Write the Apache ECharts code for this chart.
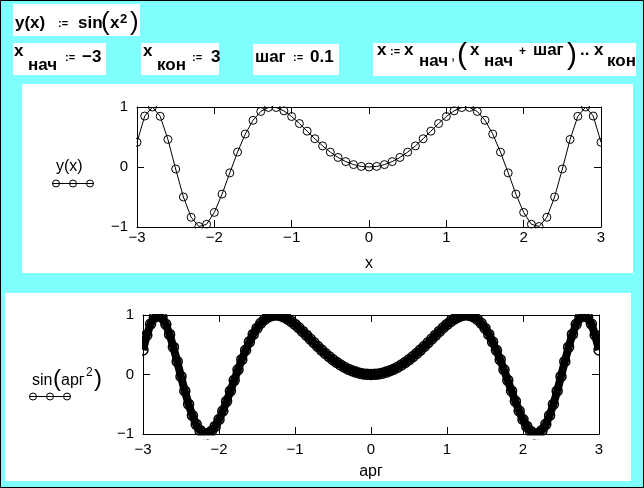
<!DOCTYPE html>
<html><head><meta charset="utf-8">
<script src="https://cdn.jsdelivr.net/npm/echarts@6/dist/echarts.min.js"></script>
<style>html,body{margin:0;padding:0;background:#80ffff}#c{width:644px;height:488px}</style>
</head><body><div id="c"></div>
<script>
// ---- data: y(x) = sin(x^2), x from -3 to 3 step 0.1 (values read/tabulated)
const xNodes = [-3,-2.9,-2.8,-2.7,-2.6,-2.5,-2.4,-2.3,-2.2,-2.1,-2,-1.9,-1.8,-1.7,-1.6,-1.5,-1.4,-1.3,-1.2,-1.1,-1,-0.9,-0.8,-0.7,-0.6,-0.5,-0.4,-0.3,-0.2,-0.1,0,0.1,0.2,0.3,0.4,0.5,0.6,0.7,0.8,0.9,1,1.1,1.2,1.3,1.4,1.5,1.6,1.7,1.8,1.9,2,2.1,2.2,2.3,2.4,2.5,2.6,2.7,2.8,2.9,3];
const yNodes = [0.4121,0.8494,0.9999,0.8451,0.4590,-0.0332,-0.4996,-0.8378,-0.9919,-0.9546,-0.7568,-0.4515,-0.0982,0.2489,0.5494,0.7781,0.9252,0.9929,0.9915,0.9356,0.8415,0.7243,0.5972,0.4706,0.3523,0.2474,0.1593,0.0899,0.0400,0.0100,0,0.0100,0.0400,0.0899,0.1593,0.2474,0.3523,0.4706,0.5972,0.7243,0.8415,0.9356,0.9915,0.9929,0.9252,0.7781,0.5494,0.2489,-0.0982,-0.4515,-0.7568,-0.9546,-0.9919,-0.8378,-0.4996,-0.0332,0.4590,0.8451,0.9999,0.8494,0.4121];
// ---- data: sin(арг^2), dense quick-plot
const argNodes = [-3,-2.95,-2.9,-2.85,-2.8,-2.75,-2.7,-2.65,-2.6,-2.55,-2.5,-2.45,-2.4,-2.35,-2.3,-2.25,-2.2,-2.15,-2.1,-2.05,-2,-1.95,-1.9,-1.85,-1.8,-1.75,-1.7,-1.65,-1.6,-1.55,-1.5,-1.45,-1.4,-1.35,-1.3,-1.25,-1.2,-1.15,-1.1,-1.05,-1,-0.95,-0.9,-0.85,-0.8,-0.75,-0.7,-0.65,-0.6,-0.55,-0.5,-0.45,-0.4,-0.35,-0.3,-0.25,-0.2,-0.15,-0.1,-0.05,0,0.05,0.1,0.15,0.2,0.25,0.3,0.35,0.4,0.45,0.5,0.55,0.6,0.65,0.7,0.75,0.8,0.85,0.9,0.95,1,1.05,1.1,1.15,1.2,1.25,1.3,1.35,1.4,1.45,1.5,1.55,1.6,1.65,1.7,1.75,1.8,1.85,1.9,1.95,2,2.05,2.1,2.15,2.2,2.25,2.3,2.35,2.4,2.45,2.5,2.55,2.6,2.65,2.7,2.75,2.8,2.85,2.9,2.95,3];
const sinArgNodes = [0.4121,0.6611,0.8494,0.9642,0.9999,0.9578,0.8451,0.6738,0.4590,0.2176,-0.0332,-0.2770,-0.4996,-0.6894,-0.8378,-0.9393,-0.9919,-0.9960,-0.9546,-0.8728,-0.7568,-0.6138,-0.4515,-0.2772,-0.0982,0.0790,0.2489,0.4069,0.5494,0.6736,0.7781,0.8619,0.9252,0.9685,0.9929,1.0000,0.9915,0.9693,0.9356,0.8923,0.8415,0.7849,0.7243,0.6613,0.5972,0.5333,0.4706,0.4100,0.3523,0.2979,0.2474,0.2011,0.1593,0.1222,0.0899,0.0625,0.0400,0.0225,0.0100,0.0025,0,0.0025,0.0100,0.0225,0.0400,0.0625,0.0899,0.1222,0.1593,0.2011,0.2474,0.2979,0.3523,0.4100,0.4706,0.5333,0.5972,0.6613,0.7243,0.7849,0.8415,0.8923,0.9356,0.9693,0.9915,1.0000,0.9929,0.9685,0.9252,0.8619,0.7781,0.6736,0.5494,0.4069,0.2489,0.0790,-0.0982,-0.2772,-0.4515,-0.6138,-0.7568,-0.8728,-0.9546,-0.9960,-0.9919,-0.9393,-0.8378,-0.6894,-0.4996,-0.2770,-0.0332,0.2176,0.4590,0.6738,0.8451,0.9578,0.9999,0.9642,0.8494,0.6611,0.4121];
// ---- tick labels and names
const xTickValues = [-3,-2,-1,0,1,2,3];
const xTickLabels = ['−3','−2','−1','0','1','2','3'];
const yTickValues = [-1,0,1];
const yTickLabels = ['−1','0','1'];
const xAxisName1 = 'x';
const xAxisName2 = 'арг';
const legendName1 = 'y(x)';

const FONT = "'Liberation Sans', Arial, sans-serif";
const chart = echarts.init(document.getElementById('c'), null, {renderer: 'canvas'});

function T(x, y, text, size, bold, z) {
  return {type: 'text', x: x, y: y, z: z || 5, silent: true,
    style: {text: text, fill: '#000', font: (bold ? 'bold ' : '') + size + 'px ' + FONT, verticalAlign: 'middle', align: 'left'}};
}
function R(x, y, w, h, fill, z) {
  return {type: 'rect', z: z, silent: true, shape: {x: x, y: y, width: w, height: h}, style: {fill: fill}};
}
function legendSample(x1, x2, y, cxs) {
  const els = [{type: 'line', z: 5, silent: true, shape: {x1: x1, y1: y, x2: x2, y2: y}, style: {stroke: '#000', lineWidth: 1}}];
  cxs.forEach(function (cx) {
    els.push({type: 'circle', z: 6, silent: true, shape: {cx: cx, cy: y, r: 3.5}, style: {fill: 'rgba(0,0,0,0)', stroke: '#000', lineWidth: 1}});
  });
  return els;
}
function covers(l, t, r, b) {
  return [
    R(l - 7, t - 7, r - l + 14, 6, '#fff', 50),
    R(l - 7, b + 1.5, r - l + 14, 3.5, '#fff', 50),
    R(l - 7, t - 7, 6, b - t + 12, '#fff', 50),
    R(r + 1, t - 7, 6, b - t + 12, '#fff', 50)
  ];
}

const graphics = [].concat(
  [
    R(22, 84, 611, 189, '#fff', -10),
    R(5, 293, 626, 188, '#fff', -10),
    // formula boxes
    R(13, 4, 127, 32, '#fff', -10),
    R(13, 43, 93, 32, '#fff', -10),
    R(141, 43, 78, 32, '#fff', -10),
    R(253, 44, 86, 31, '#fff', -10),
    R(373, 43, 263, 33, '#fff', -10),
    // y(x) := sin(x^2)
    T(15, 23, 'y(x)', 17, true),
    T(58, 24, ':=', 11, true),
    T(78, 23, 'sin', 17, true),
    T(101, 23, '(', 26, false),
    T(110, 23, 'x', 17, true),
    T(120, 19, '2', 13, true),
    T(130, 23, ')', 26, false),
    // x нач := -3
    T(14, 51, 'x', 17, true),
    T(28, 65, 'нач', 17, true),
    T(65, 58, ':=', 11, true),
    T(82, 57, '−3', 17, true),
    // x кон := 3
    T(143, 51, 'x', 17, true),
    T(157, 65, 'кон', 17, true),
    T(192, 58, ':=', 11, true),
    T(211, 57, '3', 17, true),
    // шаг := 0.1
    T(255, 57, 'шаг', 17, true),
    T(293, 58, ':=', 11, true),
    T(310, 57, '0.1', 17, true),
    // x := x нач, (x нач + шаг) .. x кон
    T(377, 50, 'x', 17, true),
    T(390, 52, ':=', 11, true),
    T(404, 50, 'x', 17, true),
    T(419, 61, 'нач', 17, true),
    T(451, 56, ',', 15, false),
    T(457, 56, '(', 30, false),
    T(470, 50, 'x', 17, true),
    T(484, 61, 'нач', 17, true),
    T(519, 52, '+', 12, true),
    T(533, 50, 'шаг', 17, true),
    T(567, 56, ')', 30, false),
    T(580, 50, '..', 17, true),
    T(594, 50, 'x', 17, true),
    T(607, 61, 'кон', 17, true),
    // legends
    T(56, 167, legendName1, 16, false),
    T(32, 381, 'sin', 16, false),
    T(53, 379, '(', 24, false),
    T(61, 381, 'арг', 16, false),
    T(86, 373, '2', 12, false),
    T(94, 379, ')', 24, false),
    // outer border
    {type: 'rect', z: 100, silent: true, shape: {x: 0.5, y: 0.5, width: 643, height: 487}, style: {fill: 'none', stroke: '#000', lineWidth: 1}}
  ],
  legendSample(52, 94, 183.5, [56, 73, 90]),
  legendSample(29, 71, 396.5, [33, 50, 67]),
  covers(137, 107, 601, 227),
  covers(143, 315, 599, 434)
);

function xAxisCfg(grid, pos, labels, name, gap, margin) {
  return {
    gridIndex: grid, type: 'value', position: pos, min: -3, max: 3, interval: 1,
    axisLine: {show: true, onZero: false, lineStyle: {color: '#000', width: 1}},
    axisTick: {show: true, inside: true, length: 7, lineStyle: {color: '#000', width: 1}},
    splitLine: {show: false},
    axisLabel: {show: labels, margin: margin, color: '#000', fontSize: 15, fontFamily: FONT,
      formatter: function (v) { return xTickLabels[xTickValues.indexOf(v)]; }},
    name: labels ? name : '', nameLocation: 'middle', nameGap: gap,
    nameTextStyle: {color: '#000', fontSize: 16, fontFamily: FONT}
  };
}
function yAxisCfg(grid, pos, labels) {
  return {
    gridIndex: grid, type: 'value', position: pos, min: -1, max: 1, interval: 1,
    axisLine: {show: true, onZero: false, lineStyle: {color: '#000', width: 1}},
    axisTick: {show: true, inside: true, length: 7, lineStyle: {color: '#000', width: 1}},
    splitLine: {show: false},
    axisLabel: {show: labels, margin: 9, color: '#000', fontSize: 15, fontFamily: FONT,
      formatter: function (v) { return yTickLabels[yTickValues.indexOf(v)]; }}
  };
}

const option = {
  backgroundColor: '#80ffff',
  animation: false,
  grid: [
    {left: 137, top: 107, width: 464, height: 120},
    {left: 143, top: 315, width: 456, height: 119}
  ],
  xAxis: [
    xAxisCfg(0, 'bottom', true, xAxisName1, 29, 3),
    xAxisCfg(0, 'top', false, '', 0, 3),
    xAxisCfg(1, 'bottom', true, xAxisName2, 30, 8),
    xAxisCfg(1, 'top', false, '', 0, 8)
  ],
  yAxis: [
    yAxisCfg(0, 'left', true),
    yAxisCfg(0, 'right', false),
    yAxisCfg(1, 'left', true),
    yAxisCfg(1, 'right', false)
  ],
  series: [
    {
      type: 'line', xAxisIndex: 0, yAxisIndex: 0, z: 3,
      data: xNodes.map(function (x, i) { return [x, yNodes[i]]; }),
      symbol: 'circle', symbolSize: 8, showSymbol: true,
      itemStyle: {color: 'rgba(0,0,0,0)', borderColor: '#000', borderWidth: 1},
      lineStyle: {color: '#000', width: 1},
      emphasis: {disabled: true}, silent: true
    },
    {
      type: 'line', xAxisIndex: 2, yAxisIndex: 2, z: 3,
      data: argNodes.map(function (x, i) { return [x, sinArgNodes[i]]; }),
      symbol: 'circle', symbolSize: 10, showSymbol: true,
      itemStyle: {color: 'rgba(0,0,0,0)', borderColor: '#000', borderWidth: 1.5},
      lineStyle: {color: '#000', width: 8},
      emphasis: {disabled: true}, silent: true
    }
  ],
  graphic: graphics
};
chart.setOption(option);
</script>
</body></html>
